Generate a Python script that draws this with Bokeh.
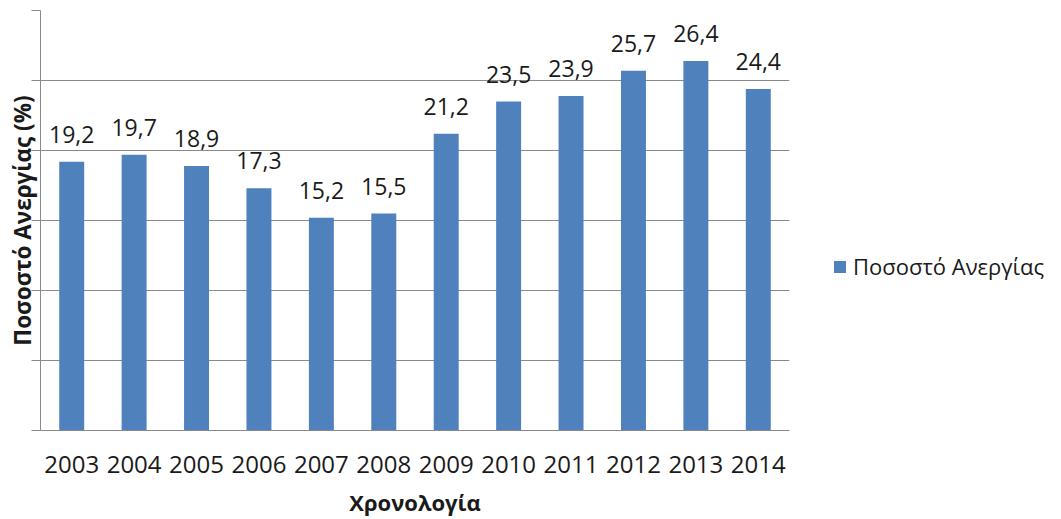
from bokeh.plotting import figure
from bokeh.models import ColumnDataSource, LabelSet, Legend, LegendItem, FixedTicker, FactorRange, Range1d
from bokeh.core.properties import value
from bokeh.embed import file_html
from bokeh.resources import INLINE

years = ["2003", "2004", "2005", "2006", "2007", "2008", "2009", "2010", "2011", "2012", "2013", "2014"]
rates = [19.2, 19.7, 18.9, 17.3, 15.2, 15.5, 21.2, 23.5, 23.9, 25.7, 26.4, 24.4]
labels = [f"{v:.1f}".replace(".", ",") for v in rates]
series_name = "Ποσοστό Ανεργίας"
yticks = [0, 5, 10, 15, 20, 25, 30]

src = ColumnDataSource(dict(x=years, y=rates, lab=labels))

p = figure(frame_width=749, frame_height=420, output_backend="svg", toolbar_location=None,
           x_range=FactorRange(*years, range_padding=0), y_range=Range1d(0, 30),
           min_border_left=40, min_border_top=10, min_border_right=0, min_border_bottom=0)
p.outline_line_color = None
p.background_fill_color = "white"
p.border_fill_color = "white"

bars = p.vbar(x="x", top="y", width=0.4, source=src, fill_color="#4F81BD", line_color=None)

p.add_layout(LabelSet(x="x", y="y", text="lab", source=src, text_align="center",
                      text_baseline="alphabetic", y_offset=19, text_font=value("Open Sans"),
                      text_font_size=value("23px"), text_color="#1a1a1a"))

grid_col = "#8a8a8a"
p.yaxis.ticker = FixedTicker(ticks=yticks)
p.ygrid.ticker = FixedTicker(ticks=yticks)
p.ygrid.grid_line_color = grid_col
p.xgrid.grid_line_color = None
p.yaxis.axis_line_color = grid_col
p.yaxis.major_tick_line_color = grid_col
p.yaxis.major_tick_out = 9
p.yaxis.major_tick_in = 0
p.yaxis.minor_tick_line_color = None
p.yaxis.major_label_overrides = {t: "" for t in yticks}
p.yaxis.major_label_standoff = 0
p.yaxis.axis_label = "Ποσοστό Ανεργίας (%)"
p.yaxis.axis_label_text_font = "Open Sans"
p.yaxis.axis_label_text_font_size = "22.5px"
p.yaxis.axis_label_text_font_style = "bold"
p.yaxis.axis_label_text_color = "#1a1a1a"
p.yaxis.axis_label_standoff = -6

p.xaxis.axis_line_color = grid_col
p.xaxis.major_tick_line_color = None
p.xaxis.minor_tick_line_color = None
p.xaxis.major_label_text_font = "Open Sans"
p.xaxis.major_label_text_font_size = "24px"
p.xaxis.major_label_text_color = "#1a1a1a"
p.xaxis.major_label_standoff = 19
p.xaxis.axis_label = "Χρονολογία"
p.xaxis.axis_label_text_font = "Open Sans"
p.xaxis.axis_label_text_font_size = "22px"
p.xaxis.axis_label_text_font_style = "bold"
p.xaxis.axis_label_text_color = "#1a1a1a"
p.xaxis.axis_label_standoff = 11

legend = Legend(items=[LegendItem(label=series_name, renderers=[bars])],
                location=(43, 149), border_line_color=None, background_fill_alpha=0,
                label_text_font="Open Sans", label_text_font_size="22px",
                label_text_color="#1a1a1a", glyph_width=15, glyph_height=15,
                label_standoff=6, margin=24, padding=0)
p.add_layout(legend, "right")

open("out.html", "w").write(file_html(p, INLINE))
